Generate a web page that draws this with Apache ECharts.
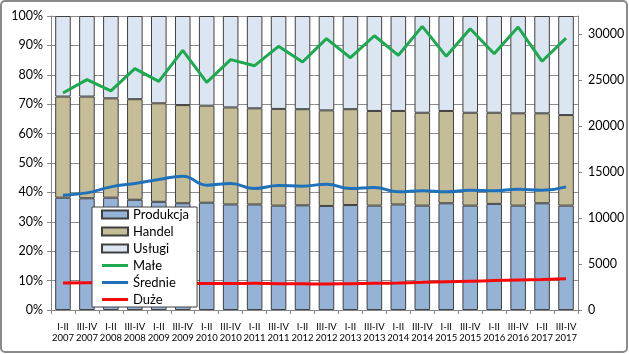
<!DOCTYPE html>
<html><head><meta charset="utf-8">
<script src="https://cdn.jsdelivr.net/npm/echarts@6/dist/echarts.min.js"></script>
<style>html,body{margin:0;padding:0;background:#fff}#c{width:629px;height:354px}</style>
</head><body><div id="c"></div>
<script>
const categories = ['I-II\n2007','III-IV\n2007','I-II\n2008','III-IV\n2008','I-II\n2009','III-IV\n2009','I-II\n2010','III-IV\n2010','I-II\n2011','III-IV\n2011','I-II\n2012','III-IV\n2012','I-II\n2013','III-IV\n2013','I-II\n2014','III-IV\n2014','I-II\n2015','III-IV\n2015','I-II\n2016','III-IV\n2016','I-II\n2017','III-IV\n2017'];
const produkcja = [38.2,38.0,38.2,37.5,36.8,36.3,36.5,35.9,35.9,35.5,35.6,35.4,35.7,35.5,35.9,35.5,36.3,35.5,36.1,35.5,36.3,35.5];
const handel = [34.4,34.6,33.8,34.2,33.5,33.4,33.0,33.0,32.7,32.9,32.7,32.5,32.6,32.2,31.8,31.6,31.4,31.6,31.0,31.4,30.6,30.8];
const uslugi = [27.4,27.4,28.0,28.3,29.7,30.3,30.5,31.1,31.4,31.6,31.7,32.1,31.7,32.3,32.3,32.9,32.3,32.9,32.9,33.1,33.1,33.7];
const male = [23620,25070,23840,26270,24890,28260,24780,27250,26590,28700,26990,29530,27460,29850,27720,30870,27610,30620,27900,30800,27070,29600];
const srednie = [12500,12750,13400,13770,14200,14560,13590,13770,13220,13550,13480,13700,13220,13330,12860,12970,12860,13040,12970,13150,13040,13400];
const duze = [2950,2970,2950,2930,2910,2900,2880,2880,2900,2870,2850,2830,2860,2900,2950,3010,3080,3140,3200,3260,3320,3390];
const legendNames = ['Produkcja','Handel','Usługi','Małe','Średnie','Duże'];

const FONT = 'Lato';
const chart = echarts.init(document.getElementById('c'), null, {renderer:'canvas'});
const barBorder = {borderColor:'#404040', borderWidth:1};
function barSeries(name, data, color){
  return {name, type:'bar', stack:'s', data, barCategoryGap:'35%', z:2,
    itemStyle:Object.assign({color}, barBorder), emphasis:{disabled:true}};
}
function lineSeries(name, data, color, smooth){
  return {name, type:'line', yAxisIndex:1, data, symbol:'none', smooth, z:3,
    lineStyle:{color, width:3}, itemStyle:{color}, emphasis:{disabled:true}};
}
const lineIcon = 'path://M0,0L0.01,0L0.01,0.01Z M0,2.5L26,2.5L26,5.5L0,5.5Z M25.99,7.99L26,7.99L26,8Z';
const lineColors = {'Małe':'#1CA94F','Średnie':'#1F72BA','Duże':'#F40A0A'};
chart.setOption({
  animation:false,
  textStyle:{fontFamily:FONT},
  graphic:[{type:'rect', shape:{x:1,y:1,width:626,height:351,r:4}, style:{fill:'none', stroke:'#8a8a8a', lineWidth:2}, z:-10}],
  grid:{left:51, right:51, top:16, bottom:44},
  legend:{
    orient:'vertical', left:92, top:207, padding:[1,8,1,9], itemGap:4, z:10,
    itemWidth:26, itemHeight:8, backgroundColor:'#fff', borderColor:'#404040', borderWidth:1,
    textStyle:{fontFamily:FONT, fontSize:13, color:'#000'},
    data:legendNames.map((n,i)=> i<3 ? {name:n, icon:'rect'} :
      {name:n, icon:lineIcon, itemStyle:{color:lineColors[n], borderWidth:0, opacity:1}})
  },
  xAxis:{type:'category', data:categories,
    axisLine:{lineStyle:{color:'#868686'}},
    axisTick:{show:true, lineStyle:{color:'#868686'}, length:4},
    axisLabel:{fontFamily:FONT, fontSize:9.5, color:'#000', interval:0, lineHeight:11, margin:11}},
  yAxis:[
    {type:'value', min:0, max:100, interval:10,
      axisLine:{show:true, lineStyle:{color:'#868686'}},
      axisTick:{show:true, length:4, lineStyle:{color:'#868686'}},
      splitLine:{lineStyle:{color:'#8c8c8c'}},
      axisLabel:{fontFamily:FONT, fontSize:12.5, color:'#000', margin:8, formatter:v=>v+'%'}},
    {type:'value', min:0, max:32000, interval:5000, position:'right',
      axisLine:{show:true, lineStyle:{color:'#868686'}},
      axisTick:{show:true, length:4, lineStyle:{color:'#868686'}},
      splitLine:{show:false},
      axisLabel:{fontFamily:FONT, fontSize:12.5, color:'#000', margin:10, showMaxLabel:false,
        formatter:v=> v>30000 ? '' : String(v)}}
  ],
  series:[
    barSeries('Produkcja', produkcja, '#95B3D7'),
    barSeries('Handel', handel, '#C4BD97'),
    barSeries('Usługi', uslugi, '#DCE6F2'),
    lineSeries('Małe', male, '#1CA94F', false),
    lineSeries('Średnie', srednie, '#1F72BA', true),
    lineSeries('Duże', duze, '#F40A0A', true)
  ]
});
</script></body></html>
